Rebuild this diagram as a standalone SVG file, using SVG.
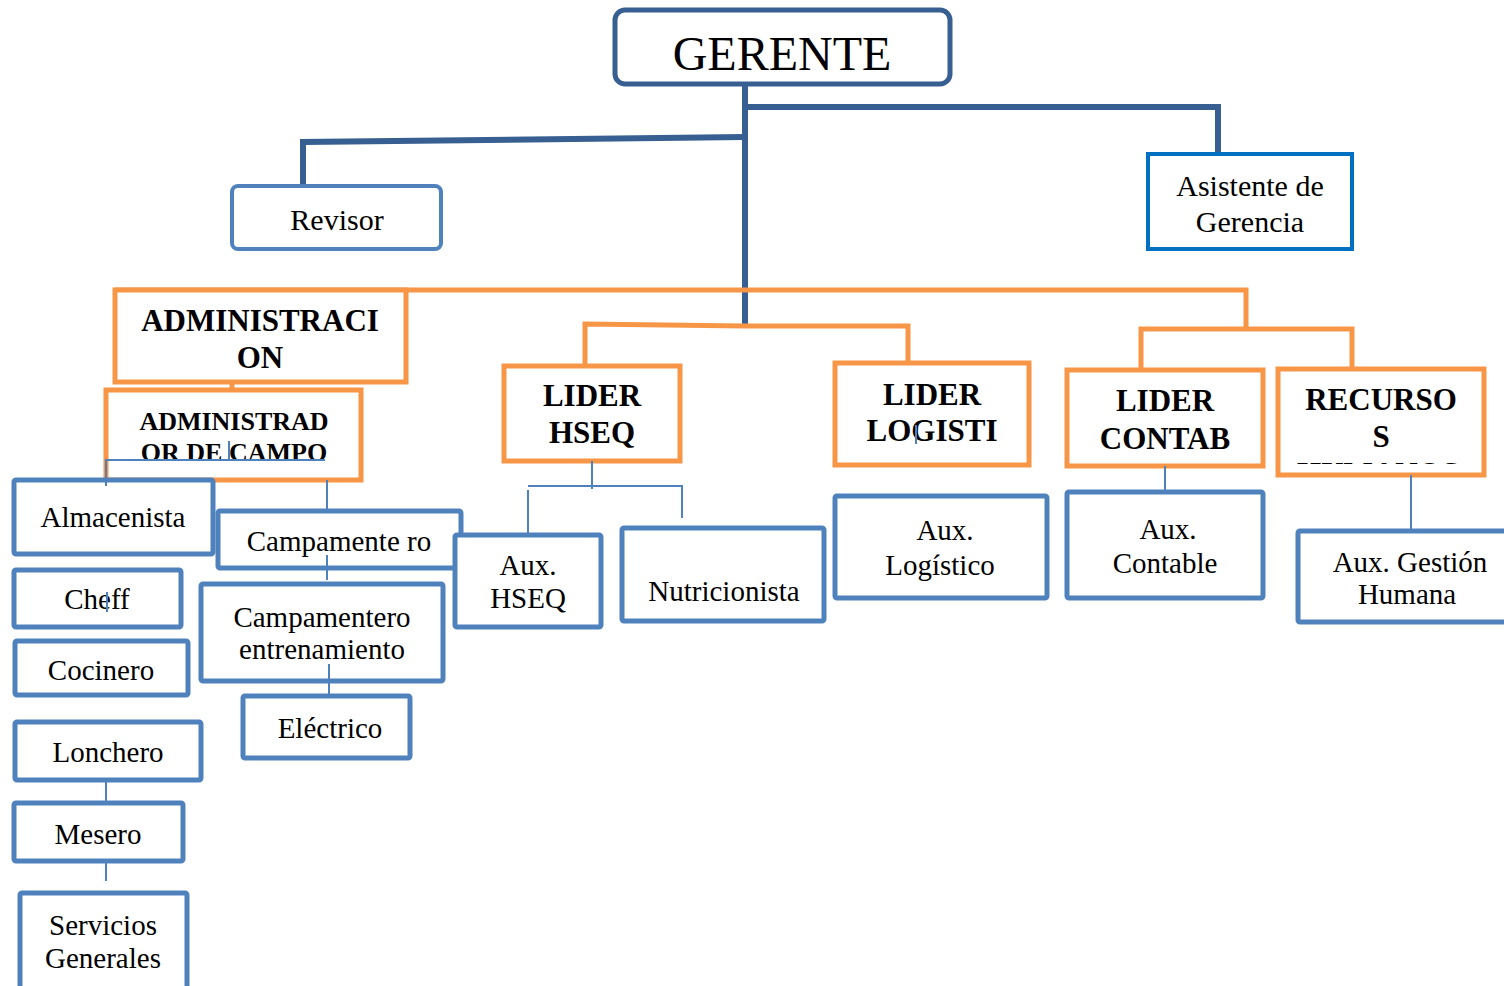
<svg xmlns="http://www.w3.org/2000/svg" width="1504" height="986" viewBox="0 0 1504 986">
<style>
.t{font-family:"Liberation Serif","Times New Roman",serif;fill:#000;text-anchor:middle}
.r{font-size:29px}
.b{font-size:31px;font-weight:bold}
.bs{font-size:26px;font-weight:bold}
.blue{fill:#fff;stroke:#4f81bd;stroke-width:5}
.org{fill:#fff;stroke:#f79646;stroke-width:5}
.dk{fill:none;stroke:#375f91;stroke-width:6}
.ol{fill:none;stroke:#f79646;stroke-width:5}
.tl{fill:none;stroke:#4f81bd;stroke-width:2}
</style>
<defs>
<clipPath id="clipH"><rect x="1280" y="455" width="200" height="9"/></clipPath>
</defs>
<rect width="1504" height="986" fill="#fff"/>
<g id="connectors">
<polyline class="dk" points="745,84 745,327"/>
<polyline class="dk" points="745,107 1218,107 1218,153"/>
<polyline class="dk" points="745,137 303,142 303,186"/>
<polyline class="ol" points="115,290 1246,290 1246,329"/>
<polyline class="ol" points="585,366 585,324 745,326 908,326 908,362"/>
<polyline class="ol" points="1141,370 1141,329 1352,329 1352,369"/>
<polyline class="ol" points="232,382 232,390"/>
</g>
<g id="gerente"><rect x="615" y="10" width="335" height="74" rx="10" fill="#fff" stroke="#375f91" stroke-width="5"/><text class="t" x="782" y="70" font-size="48">GERENTE</text></g>
<g id="revisor"><rect x="232" y="186" width="209" height="63" rx="6" fill="#fff" stroke="#4f81bd" stroke-width="4"/><text class="t" x="337" y="230" font-size="30">Revisor</text></g>
<g id="asistente"><rect x="1148" y="154" width="204" height="95" fill="#fff" stroke="#0070c0" stroke-width="4"/><text class="t" x="1250" y="196" font-size="30">Asistente de</text><text class="t" x="1250" y="232" font-size="30">Gerencia</text></g>
<g id="administracion"><rect class="org" x="115" y="290" width="291" height="92"/><text class="t b" x="260" y="331">ADMINISTRACI</text><text class="t b" x="260" y="368">ON</text></g>
<g id="admin-campo"><rect class="org" x="106" y="390" width="255" height="90"/><text class="t bs" x="234" y="430">ADMINISTRAD</text><text class="t bs" x="234" y="461">OR DE CAMPO</text></g>
<g id="lider-hseq"><rect class="org" x="504" y="366" width="176" height="95"/><text class="t b" x="592" y="406">LIDER</text><text class="t b" x="592" y="443">HSEQ</text></g>
<g id="lider-logisti"><rect class="org" x="835" y="363" width="194" height="102"/><text class="t b" x="932" y="405">LIDER</text><text class="t b" x="932" y="441">LOGISTI</text></g>
<g id="lider-contab"><rect class="org" x="1067" y="370" width="196" height="96"/><text class="t b" x="1165" y="411">LIDER</text><text class="t b" x="1165" y="449">CONTAB</text></g>
<g id="recursos"><rect class="org" x="1278" y="369" width="206" height="106"/><text class="t b" x="1381" y="410">RECURSO</text><text class="t b" x="1381" y="447">S</text><text class="t b" x="1378" y="484" clip-path="url(#clipH)">HUMANOS</text></g>
<g id="almacenista"><rect class="blue" x="14" y="480" width="199" height="74" rx="2"/><text class="t r" x="113" y="527">Almacenista</text></g>
<g id="campamentero"><rect class="blue" x="218" y="511" width="243" height="57" rx="2"/><text class="t r" x="339" y="551">Campamente ro</text></g>
<g id="aux-hseq"><rect class="blue" x="455" y="535" width="146" height="92" rx="2"/><text class="t r" x="528" y="575">Aux.</text><text class="t r" x="528" y="608">HSEQ</text></g>
<g id="cheff"><rect class="blue" x="14" y="570" width="167" height="57" rx="2"/><text class="t r" x="97" y="609">Cheff</text></g>
<g id="camp-entrenamiento"><rect class="blue" x="201" y="584" width="242" height="97" rx="2"/><text class="t r" x="322" y="627">Campamentero</text><text class="t r" x="322" y="659">entrenamiento</text></g>
<g id="cocinero"><rect class="blue" x="15" y="641" width="173" height="54" rx="2"/><text class="t r" x="101" y="680">Cocinero</text></g>
<g id="electrico"><rect class="blue" x="243" y="696" width="167" height="62" rx="2"/><text class="t r" x="330" y="738">Eléctrico</text></g>
<g id="lonchero"><rect class="blue" x="15" y="722" width="186" height="58" rx="2"/><text class="t r" x="108" y="762">Lonchero</text></g>
<g id="mesero"><rect class="blue" x="14" y="803" width="169" height="58" rx="2"/><text class="t r" x="98" y="844">Mesero</text></g>
<g id="servicios"><rect class="blue" x="20" y="893" width="167" height="100" rx="2"/><text class="t r" x="103" y="935">Servicios</text><text class="t r" x="103" y="968">Generales</text></g>
<g id="nutricionista"><rect class="blue" x="622" y="528" width="202" height="93" rx="2"/><text class="t r" x="724" y="601">Nutricionista</text></g>
<g id="aux-logistico"><rect class="blue" x="835" y="496" width="212" height="102" rx="2"/><text class="t r" x="945" y="540">Aux.</text><text class="t r" x="940" y="575">Logístico</text></g>
<g id="aux-contable"><rect class="blue" x="1067" y="492" width="196" height="106" rx="2"/><text class="t r" x="1168" y="539">Aux.</text><text class="t r" x="1165" y="573">Contable</text></g>
<g id="aux-gestion"><rect class="blue" x="1298" y="531" width="220" height="91" rx="2"/><text class="t r" x="1410" y="572">Aux. Gestión</text><text class="t r" x="1407" y="604">Humana</text></g>
<g id="thin-connectors">
<polyline class="tl" points="106,486 106,460 325,460"/>
<polyline class="tl" points="229,441 229,460"/>
<polyline class="tl" points="327,480 327,510"/>
<polyline class="tl" points="327,555 327,580"/>
<polyline class="tl" points="107,592 107,612"/>
<polyline class="tl" points="329,664 329,695"/>
<polyline class="tl" points="106,780 106,803"/>
<polyline class="tl" points="106,861 106,881"/>
<polyline class="tl" points="592,461 592,489"/>
<polyline class="tl" points="528,535 528,490"/>
<polyline class="tl" points="528,486 682,486 682,518"/>
<polyline class="tl" points="916,425 916,444"/>
<polyline class="tl" points="1165,466 1165,491"/>
<polyline class="tl" points="1411,475 1411,530"/>
</g>
</svg>
